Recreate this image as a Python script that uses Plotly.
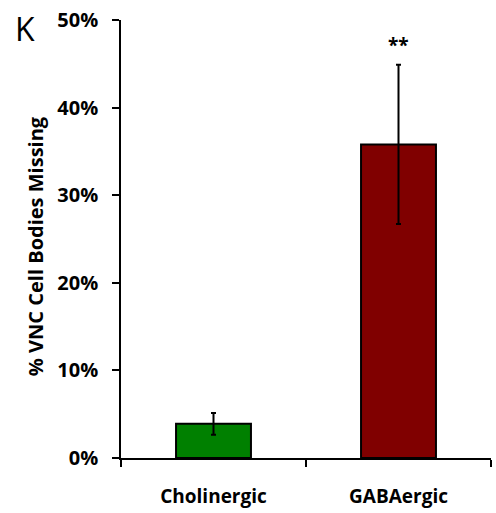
import plotly.graph_objects as go

categories = ["Cholinergic", "GABAergic"]
values = [3.9, 35.8]
errors = [1.25, 9.1]
colors = ["#008000", "#800000"]
y_ticks = [0, 10, 20, 30, 40, 50]
y_tick_labels = ["0%", "10%", "20%", "30%", "40%", "50%"]
signif = ["", "**"]

FONT = "'Open Sans', Calibri, sans-serif"

fig = go.Figure()
fig.add_trace(go.Bar(
    x=categories, y=values,
    marker=dict(color=colors, line=dict(color="black", width=2)),
    width=0.405,
    error_y=dict(type="data", array=errors, visible=True, color="black",
                 thickness=2, width=2.5),
))

for c, v, e, s in zip(categories, values, errors, signif):
    if s:
        fig.add_annotation(x=c, y=v + e, text="<b>" + s + "</b>", showarrow=False,
                           yshift=20, font=dict(size=19, color="black", family=FONT))

fig.add_annotation(xref="paper", yref="paper", x=-0.232, y=0.484,
                   xanchor="center", yanchor="middle",
                   text="<b>% VNC Cell Bodies Missing</b>", textangle=-90,
                   showarrow=False, font=dict(size=20, color="black", family=FONT))
fig.add_annotation(xref="paper", yref="paper", x=-0.292, y=1.035, xanchor="left", yanchor="top",
                   text="K", showarrow=False,
                   font=dict(size=32, color="black", family=FONT))

fig.update_layout(
    width=496, height=513,
    margin=dict(l=121, r=5, t=20, b=55, autoexpand=False),
    plot_bgcolor="white", paper_bgcolor="white",
    showlegend=False,
    font=dict(family=FONT, color="black"),
)
fig.update_xaxes(
    range=[-0.5, 1.5], showline=True, linecolor="black", linewidth=1.5,
    ticks="outside", tickson="boundaries", ticklen=7, tickwidth=1.5, tickcolor="black",
    tickfont=dict(size=19, family=FONT, color="black", weight="bold"),
    showgrid=False, zeroline=False, ticklabelstandoff=20, automargin=False,
    ticklabeloverflow="allow",
)
fig.update_yaxes(
    range=[0, 50], showline=True, linecolor="black", linewidth=1.5,
    ticks="outside", ticklen=7, tickwidth=1.5, tickcolor="black",
    tickvals=y_ticks, ticktext=y_tick_labels,
    tickfont=dict(size=20, family=FONT, color="black", weight="bold"),
    showgrid=False, zeroline=False, ticklabelstandoff=10, automargin=False,
    ticklabeloverflow="allow",
)

fig.write_html("out.html", config={"displayModeBar": False},
               post_script="document.body.style.margin='0';document.body.style.overflow='hidden';")
